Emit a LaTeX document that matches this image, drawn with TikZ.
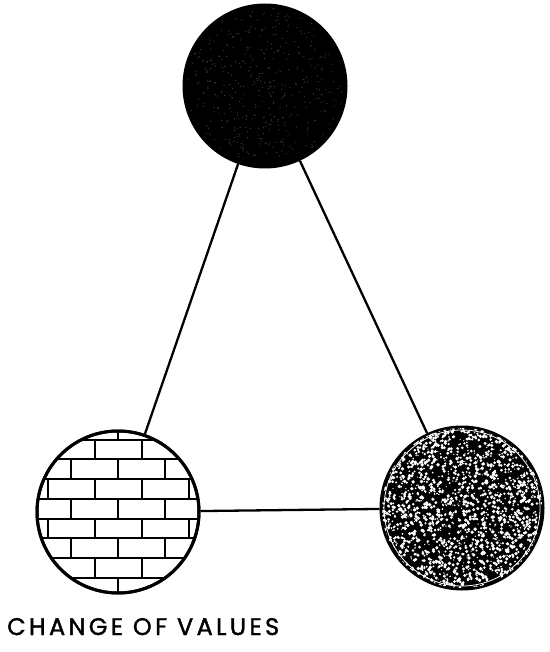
\documentclass[tikz,border=0pt]{standalone}
\usepackage{fontspec}
\newfontfamily\legendfont[FakeBold=1.6,LetterSpace=14]{Poppins}
\usetikzlibrary{calc}

\tikzset{
	valeur/.style={circle,draw,line width=3pt,inner sep=0pt,minimum size=162pt},
	lien/.style={line width=2.3pt},
	brique/.style={line width=2pt}
}

\begin{document}
\begin{tikzpicture}[x=1pt,y=-1pt]
	\useasboundingbox (0,0) rectangle (549,652);
	\node[valeur,fill=black] (haut) at (265,86) {};
	\node[valeur,fill=white] (gauche) at (118,512) {};
	\node[valeur,fill=black] (droite) at (462,508) {};
	% grain du cercle du haut
	\pgfmathsetseed{11}
	\begin{scope}
		\clip (haut.center) circle (78);
		\foreach \i in {1,...,450}
			{\pgfmathsetmacro\a{360*rnd}
			\pgfmathsetmacro\d{80*sqrt(rnd)}
			\fill[black!72,shift={(haut.center)}] (\a:\d) circle (0.6);}
	\end{scope}
	% briques
	\begin{scope}
		\clip (gauche.center) circle (81);
		\foreach \j in {0,...,9}
			{\pgfmathsetmacro\yh{-92+19.7*\j}
			\pgfmathsetmacro\dx{23.5*mod(\j,2)}
			\draw[brique] ($(gauche.center)+(-90,\yh)$) -- ++(180,0);
			\foreach \m in {-3,...,3}
				\draw[brique] ($(gauche.center)+(\dx+47*\m,\yh)$) -- ++(0,19.7);}
	\end{scope}
	% grain du cercle de droite
	\pgfmathsetseed{3}
	\begin{scope}
		\clip (droite.center) circle (80);
		\foreach \i in {1,...,1700}
			{\pgfmathsetmacro\a{360*rnd}
			\pgfmathsetmacro\d{82*sqrt(rnd)}
			\pgfmathsetmacro\s{0.6+1.3*rnd}
			\fill[white,shift={(droite.center)}] (\a:\d) circle (\s);}
		\draw[white,line width=0.8pt] (droite.center) circle (78);
	\end{scope}
	\node[valeur] at (gauche) {};
	\draw[lien] (haut) -- (gauche);
	\draw[lien] (haut) -- (droite);
	\draw[lien] (gauche) -- (droite);
	\node[anchor=base west,inner sep=0pt,font=\legendfont\fontsize{24}{24}\selectfont] (legende) at (7,635) {CHANGE OF VALUES};
\end{tikzpicture}
\end{document}
